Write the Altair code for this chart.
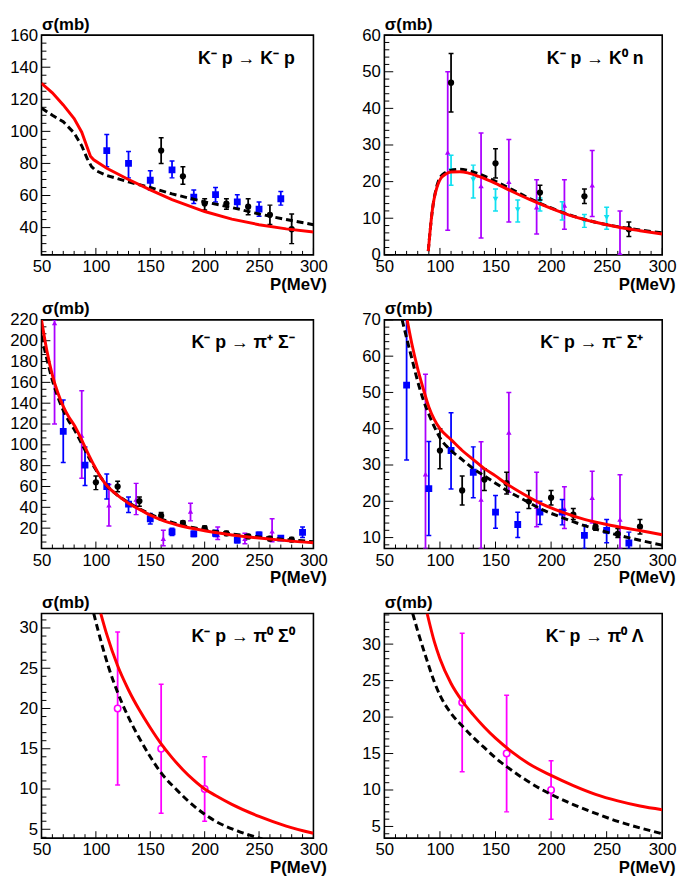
import altair as alt
import pandas as pd

FONT = "Liberation Sans"
RED = "#ff0000"
BLUE = "#0000ff"
CYAN = "#10e0f0"
VIOLET = "#aa00ff"
MAGENTA = "#ff00ff"

X_LABELS = [50, 100, 150, 200, 250, 300]
X_MINOR = [60, 70, 80, 90, 110, 120, 130, 140, 160, 170, 180, 190,
           210, 220, 230, 240, 260, 270, 280, 290]

# ---------------- panel 1 : K- p -> K- p ----------------
P1_LABEL = ["K\u207b p \u2192 K\u207b p"]
P1_YDOM = [23, 160]
P1_YLAB = [40, 60, 80, 100, 120, 140, 160]
P1_RED = [(50, 130), (60, 124), (70, 116.5), (80, 108), (87, 99.5), (91, 92), (95, 84.5),
          (98, 82.3), (110, 77), (130, 70), (150, 63.5), (170, 57.5), (200, 50),
          (225, 45.3), (250, 41.8), (275, 39.2), (300, 37.2)]
P1_DASH = [(50, 114.5), (60, 110), (70, 106), (80, 99), (87, 91), (92, 83), (96, 78),
           (100, 75.5), (110, 72.5), (130, 68.5), (150, 65), (170, 61), (200, 56),
           (225, 52.5), (250, 48.5), (275, 45), (300, 41.8)]
P1_BLUE = [(110, 88, 78, 98), (130, 80, 71, 87.5), (150, 69.5, 63.5, 75.5), (170, 76, 71, 81.5),
           (190, 59, 55, 63.5), (210, 60.5, 56, 65), (230, 56, 52, 60.5), (250, 51.5, 47, 56),
           (270, 58, 54, 62.5)]
P1_BLACK = [(160, 88, 80, 96), (180, 72, 67, 78), (200, 55, 51, 58), (220, 55, 51.5, 58),
            (240, 53, 48, 58), (260, 48, 42, 54), (280, 39, 30, 48.5)]

# ---------------- panel 2 : K- p -> K0 n ----------------
P2_LABEL = ["K\u207b p \u2192 K\u2070 n"]
P2_YDOM = [0, 60]
P2_YLAB = [0, 10, 20, 30, 40, 50, 60]
P2_RED = [(89.5, 1), (91, 6), (92.5, 10.5), (94, 14), (96, 17), (98.5, 19.5), (101, 21),
          (105, 22), (110, 22.6), (118, 22.7), (125, 22.4), (135, 21.4), (150, 19.5),
          (165, 17.3), (180, 15.2), (200, 12.7), (220, 10.5), (240, 8.9), (260, 7.6),
          (280, 6.6), (300, 5.7)]
P2_DASH = [(89.5, 1), (91, 6), (92.5, 10.5), (94, 14), (96, 17.3), (98.5, 20), (101, 21.5),
           (105, 22.5), (110, 23.1), (118, 23.4), (125, 23.1), (135, 22.1), (150, 20.1),
           (165, 17.8), (180, 15.5), (200, 12.8), (220, 10.6), (240, 8.9), (260, 7.7),
           (280, 6.8), (300, 6)]
P2_BLACK = [(110, 47, 39, 55), (150, 25, 21, 29), (190, 17, 15, 19), (230, 16, 14, 18),
            (270, 7, 5, 9)]
P2_CYAN = [(110, 23, 19, 27.2), (130, 20.5, 15.5, 24.5), (150, 15.2, 12, 18), (170, 12.3, 9, 15),
           (190, 14.5, 12, 15.5), (210, 11.5, 9.5, 14.5), (230, 9.2, 7.5, 11), (250, 10.2, 7, 13)]
P2_VIOLET = [(107, 28, 6.7, 50), (137, 18.8, 4.6, 33.3), (162, 20, 9, 31.5), (187, 13, 5.7, 20.5),
             (212, 13.5, 7, 20.5), (237, 19, 10.5, 28.5), (262, 0.5, 0, 12)]

# ---------------- panel 3 : K- p -> pi+ Sigma- ----------------
P3_LABEL = ["K\u207b p \u2192 \u03c0\u207a \u03a3\u207b"]
P3_YDOM = [0.5, 220]
P3_YLAB = [20, 40, 60, 80, 100, 120, 140, 160, 180, 200, 220]
P3_RED = [(50, 220), (55, 190), (60, 167), (65, 150), (70, 137), (75, 127), (80, 119),
          (85, 109), (90, 98), (95, 87), (100, 77), (105, 68), (110, 61), (120, 51.5),
          (130, 44), (140, 38), (150, 32.5), (160, 28), (175, 23), (200, 17.5),
          (225, 13.5), (250, 10.5), (275, 8), (300, 6)]
P3_DASH = [(50, 205), (55, 182), (60, 162), (65, 146), (70, 133), (75, 123), (80, 115),
           (85, 105), (90, 95), (95, 85), (100, 76), (105, 68), (110, 61), (120, 51.5),
           (130, 44.5), (140, 38.5), (150, 33.5), (160, 29), (175, 24), (200, 18.5),
           (225, 14.5), (250, 11.5), (275, 9), (300, 7)]
P3_BLUE = [(70, 113, 83, 143), (90, 80.5, 61, 98), (110, 60, 48, 72), (130, 43, 35, 50),
           (150, 29, 24, 34), (170, 16.5, 13, 20), (190, 14.5, 12, 17), (210, 15, 12, 18),
           (230, 8.5, 6, 11), (250, 13.5, 11, 16), (270, 10.5, 8.5, 12.5), (290, 16, 11, 21)]
P3_BLACK = [(100, 64, 57, 70), (120, 60, 55, 65), (140, 46, 41, 50), (160, 32, 28, 35),
            (180, 25, 22, 27), (200, 20, 18, 22), (220, 15, 13, 17), (240, 12, 10, 14),
            (260, 10, 8, 12), (280, 9, 7, 11)]
P3_VIOLET = [(62, 217, 120, 220), (87, 109, 68, 152), (112, 42, 22, 62), (137, 47.5, 33, 63),
             (162, 10, 3, 18), (187, 36, 27, 44), (212, 13.5, 9, 21), (237, 10, 5, 15),
             (262, 17, 7, 29)]

# ---------------- panel 4 : K- p -> pi- Sigma+ ----------------
P4_LABEL = ["K\u207b p \u2192 \u03c0\u207b \u03a3\u207a"]
P4_YDOM = [7, 70]
P4_YLAB = [10, 20, 30, 40, 50, 60, 70]
P4_RED = [(70.5, 70), (75, 63), (80, 56.5), (85, 51), (90, 46), (95, 42.5), (100, 40),
          (110, 37), (120, 34), (130, 31.5), (140, 29), (150, 27), (160, 24.8), (175, 22),
          (190, 19.5), (210, 17), (230, 15), (250, 13.6), (275, 12.2), (300, 10.8)]
P4_DASH = [(66, 70), (70, 65), (75, 59), (80, 53), (85, 48), (90, 44), (95, 40.5), (100, 37.5),
           (110, 34), (120, 31.5), (130, 29), (140, 27), (150, 25), (160, 23), (175, 20.5),
           (190, 18), (210, 15.5), (230, 13.3), (250, 11.5), (275, 9.6), (300, 7.9)]
P4_BLUE = [(70, 52, 31.4, 70), (90, 23.5, 10.6, 36.5), (110, 34, 23.4, 44.4), (130, 28, 21, 35),
           (150, 17, 12.6, 21.6), (170, 13.6, 10, 17), (190, 17, 13.6, 20), (210, 17, 13.5, 20.5),
           (230, 10.6, 7, 13.5), (250, 12, 8.6, 15), (270, 8.5, 7, 11.5)]
P4_BLACK = [(100, 34, 29, 40), (120, 23, 19, 27), (140, 26, 23, 29), (160, 25, 22, 28),
            (180, 20, 18, 23), (200, 21, 19, 23), (220, 16.3, 15, 18), (240, 13, 12, 14),
            (260, 11, 10, 12.5), (280, 13, 11, 15)]
P4_VIOLET = [(87, 27.5, 7, 55), (137, 20.5, 7, 36.4), (162, 39, 22.5, 50), (187, 18.5, 13, 28),
             (212, 18, 12.5, 24), (237, 21, 14, 28.3), (262, 15, 7, 27.3)]

# ---------------- panel 5 : K- p -> pi0 Sigma0 ----------------
P5_LABEL = ["K\u207b p \u2192 \u03c0\u2070 \u03a3\u2070"]
P5_YDOM = [3.9, 31.8]
P5_YLAB = [5, 10, 15, 20, 25, 30]
P5_RED = [(104.5, 31.8), (110, 29.2), (120, 25.3), (130, 22.3), (140, 19.8), (150, 17.6),
          (160, 15.6), (170, 13.9), (180, 12.4), (190, 11.1), (200, 10.0), (210, 9.2),
          (225, 8.1), (250, 6.6), (275, 5.4), (300, 4.5)]
P5_DASH = [(98, 31.8), (105, 28.2), (112, 25), (120, 22), (130, 18.9), (140, 16.3), (150, 14),
           (160, 12), (175, 9.8), (190, 7.9), (210, 6), (230, 4.8), (253, 3.8)]
P5_MAGENTA = [(120, 20, 10.5, 29.5), (160, 15, 7, 23), (200, 10, 6, 14)]

# ---------------- panel 6 : K- p -> pi0 Lambda ----------------
P6_LABEL = ["K\u207b p \u2192 \u03c0\u2070 \u039b"]
P6_YDOM = [3.4, 34.2]
P6_YLAB = [5, 10, 15, 20, 25, 30]
P6_RED = [(88.5, 34.2), (95, 30.3), (100, 28), (110, 24.6), (120, 22.2), (130, 20.3),
          (140, 18.6), (150, 17.1), (165, 15.2), (180, 13.6), (200, 12), (220, 10.6),
          (240, 9.4), (260, 8.5), (280, 7.8), (300, 7.3)]
P6_DASH = [(75.5, 34.2), (80, 31.8), (87, 28.4), (95, 24.8), (100, 23), (110, 20.5),
           (120, 18.8), (130, 17.2), (140, 15.8), (150, 14.4), (160, 13.2), (175, 11.6),
           (190, 10.2), (200, 9.4), (220, 8), (240, 6.8), (260, 5.7), (280, 4.8), (300, 4)]
P6_MAGENTA = [(120, 22, 12.5, 31.5), (160, 15, 7, 23), (200, 10, 6, 14)]


def minor_ticks(dom, step, majors):
    out = []
    k = 0
    while k * step <= dom[1] + 1e-9:
        v = round(k * step, 6)
        if v >= dom[0] and all(abs(v - m) > 1e-6 for m in majors):
            out.append(v)
        k += 1
    return out


def curve_df(pts):
    return pd.DataFrame(pts, columns=["p", "s"])


def pts_df(pts):
    return pd.DataFrame(pts, columns=["p", "s", "lo", "hi"])


STYLE = {
    "blue": dict(shape="square", filled=True, size=48, color=BLUE),
    "black": dict(shape="circle", filled=True, size=40, color="black"),
    "cyan": dict(shape="triangle-down", filled=True, size=34, color=CYAN),
    "violet": dict(shape="triangle-up", filled=True, size=30, color=VIOLET),
    "magenta": dict(shape="circle", filled=True, size=42, color=MAGENTA),
}


def panel(w, h, ydom, ylabels, ystep, red, dashed, series, label, kinked=False):
    xs = alt.Scale(domain=[50, 300], nice=False, zero=False)
    ys = alt.Scale(domain=ydom, nice=False, zero=False)
    xax = alt.Axis(values=X_LABELS, title="P(MeV)", titleX=w + 13, titleY=35,
                   titleAlign="right", titleBaseline="alphabetic", labelFlush=False,
                   labelOverlap=False, format="d")
    yax = alt.Axis(values=ylabels, title="\u03c3(mb)", titleAngle=0, titleX=0, titleY=-6,
                   titleAlign="left", titleBaseline="alphabetic", labelFlush=False,
                   labelOverlap=False, format="d")
    X = alt.X("p:Q", scale=xs, axis=xax)
    Y = alt.Y("s:Q", scale=ys, axis=yax)
    interp = "linear" if kinked else "monotone"
    layers = []
    # inward ticks
    layers.append(alt.Chart(pd.DataFrame({"p": X_LABELS})).mark_rule(color="black", strokeWidth=1)
                  .encode(x=X, y=alt.value(h), y2=alt.value(h - 7)))
    layers.append(alt.Chart(pd.DataFrame({"p": X_MINOR})).mark_rule(color="black", strokeWidth=1)
                  .encode(x=X, y=alt.value(h), y2=alt.value(h - 4)))
    layers.append(alt.Chart(pd.DataFrame({"s": [v for v in ylabels if ydom[0] <= v <= ydom[1]]}))
                  .mark_rule(color="black", strokeWidth=1)
                  .encode(y=Y, x=alt.value(0), x2=alt.value(9)))
    layers.append(alt.Chart(pd.DataFrame({"s": minor_ticks(ydom, ystep, ylabels)}))
                  .mark_rule(color="black", strokeWidth=1)
                  .encode(y=Y, x=alt.value(0), x2=alt.value(5)))
    # data points
    for kind, pts in series:
        st = STYLE[kind]
        df = pts_df(pts)
        base = alt.Chart(df)
        layers.append(base.mark_rule(clip=True, color=st["color"], strokeWidth=1.8)
                      .encode(x=X, y=alt.Y("lo:Q", scale=ys, axis=yax), y2="hi:Q"))
        for f in ["lo", "hi"]:
            layers.append(base.mark_point(shape="M-1,0L1,0", size=25, filled=False, clip=True,
                                          color=st["color"], strokeWidth=1.5, opacity=1)
                          .encode(x=X, y=alt.Y(f + ":Q", scale=ys, axis=yax)))
        if kind == "magenta":
            layers.append(base.mark_point(shape="circle", filled=True, size=42, clip=True,
                                          fill="white", stroke=MAGENTA, strokeWidth=1.6, opacity=1)
                          .encode(x=X, y=Y))
        else:
            layers.append(base.mark_point(clip=True, opacity=1, **st).encode(x=X, y=Y))
    # model curves
    layers.append(alt.Chart(curve_df(dashed)).mark_line(clip=True, color="black", strokeWidth=3,
                                                        strokeDash=[7, 4], interpolate=interp)
                  .encode(x=X, y=Y))
    layers.append(alt.Chart(curve_df(red)).mark_line(clip=True, color=RED, strokeWidth=3,
                                                     interpolate=interp)
                  .encode(x=X, y=Y))
    # reaction label
    layers.append(alt.Chart(pd.DataFrame({"t": label}))
                  .mark_text(align="right", baseline="alphabetic", font=FONT, fontSize=18,
                             fontWeight="bold", color="black")
                  .encode(x=alt.value(w - 19), y=alt.value(29), text="t:N"))
    return alt.layer(*layers).properties(width=w, height=h)


W1, W2 = 276, 282
H1, H2, H3 = 223, 232, 228

charts = [
    panel(W1, H1, P1_YDOM, P1_YLAB, 5, P1_RED, P1_DASH,
          [("blue", P1_BLUE), ("black", P1_BLACK)], P1_LABEL, kinked=True),
    panel(W2, H1, P2_YDOM, P2_YLAB, 2, P2_RED, P2_DASH,
          [("violet", P2_VIOLET), ("cyan", P2_CYAN), ("black", P2_BLACK)], P2_LABEL),
    panel(W1, H2, P3_YDOM, P3_YLAB, 20 / 3, P3_RED, P3_DASH,
          [("violet", P3_VIOLET), ("blue", P3_BLUE), ("black", P3_BLACK)], P3_LABEL),
    panel(W2, H2, P4_YDOM, P4_YLAB, 2, P4_RED, P4_DASH,
          [("violet", P4_VIOLET), ("blue", P4_BLUE), ("black", P4_BLACK)], P4_LABEL),
    panel(W1, H3, P5_YDOM, P5_YLAB, 1, P5_RED, P5_DASH,
          [("magenta", P5_MAGENTA)], P5_LABEL),
    panel(W2, H3, P6_YDOM, P6_YLAB, 1, P6_RED, P6_DASH,
          [("magenta", P6_MAGENTA)], P6_LABEL),
]

chart = alt.concat(*charts, columns=2, spacing={"row": 66, "column": 72}, bounds="flush").properties(
    padding=0
).configure_axis(
    labelFont=FONT, labelFontSize=17, labelColor="black",
    titleFont=FONT, titleFontSize=17, titleFontWeight="bold", titleColor="black",
    grid=False, ticks=False, tickSize=0, domain=False, labelPadding=4,
).configure_view(stroke="black", strokeWidth=1.6)

chart.save("out.html", embed_options={"renderer": "svg", "actions": False})
